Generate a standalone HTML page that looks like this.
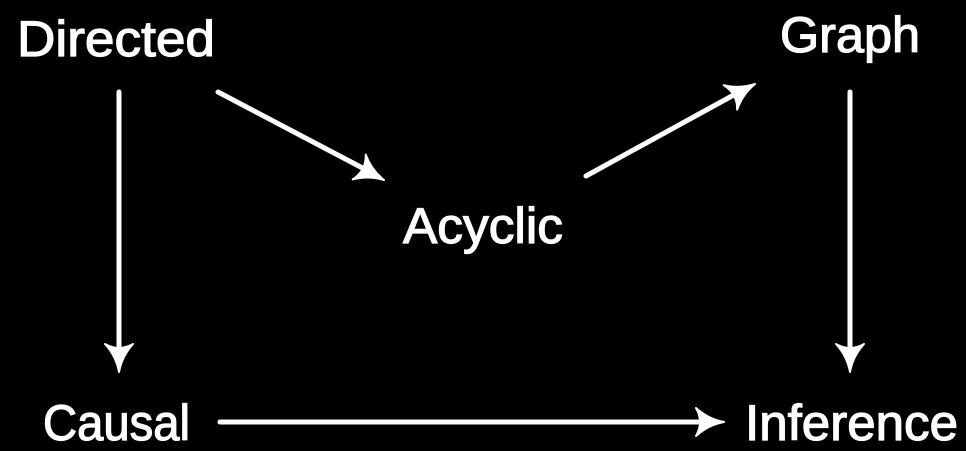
<!DOCTYPE html>
<html><head><style>
html,body{margin:0;padding:0;background:#000;}
svg{display:block;}
text{font-family:"Liberation Sans",sans-serif;fill:#fff;stroke:#fff;stroke-width:1.2px;font-size:50px;}
</style></head><body>
<svg width="966" height="451" viewBox="0 0 966 451">
<defs>
<path id="ah" d="M0,0 Q-16,3 -28,14 Q-20,0 -28,-14 Q-16,-3 0,0 Z" fill="#fff" stroke="#fff" stroke-width="2" stroke-linejoin="round"/>
</defs>
<g stroke="#fff" stroke-width="5" fill="none" stroke-linecap="round">
<line x1="119" y1="92" x2="119" y2="358"/>
<line x1="218" y1="92" x2="372" y2="173"/>
<line x1="586" y1="176" x2="741" y2="91"/>
<line x1="850" y1="92" x2="850" y2="360"/>
<line x1="220" y1="422" x2="712" y2="422"/>
</g>
<use href="#ah" transform="translate(119,372) rotate(90)"/>
<use href="#ah" transform="translate(384,180) rotate(27.7)"/>
<use href="#ah" transform="translate(755,84) rotate(-28.7)"/>
<use href="#ah" transform="translate(850,372) rotate(90)"/>
<use href="#ah" transform="translate(724,422)"/>
<text x="17" y="56" textLength="198" lengthAdjust="spacingAndGlyphs">Directed</text>
<text x="780" y="52" textLength="140" lengthAdjust="spacingAndGlyphs">Graph</text>
<text x="403" y="243" textLength="160" lengthAdjust="spacingAndGlyphs">Acyclic</text>
<text x="43" y="440" textLength="147" lengthAdjust="spacingAndGlyphs">Causal</text>
<text x="745" y="440" textLength="213" lengthAdjust="spacingAndGlyphs">Inference</text>
</svg>
</body></html>
